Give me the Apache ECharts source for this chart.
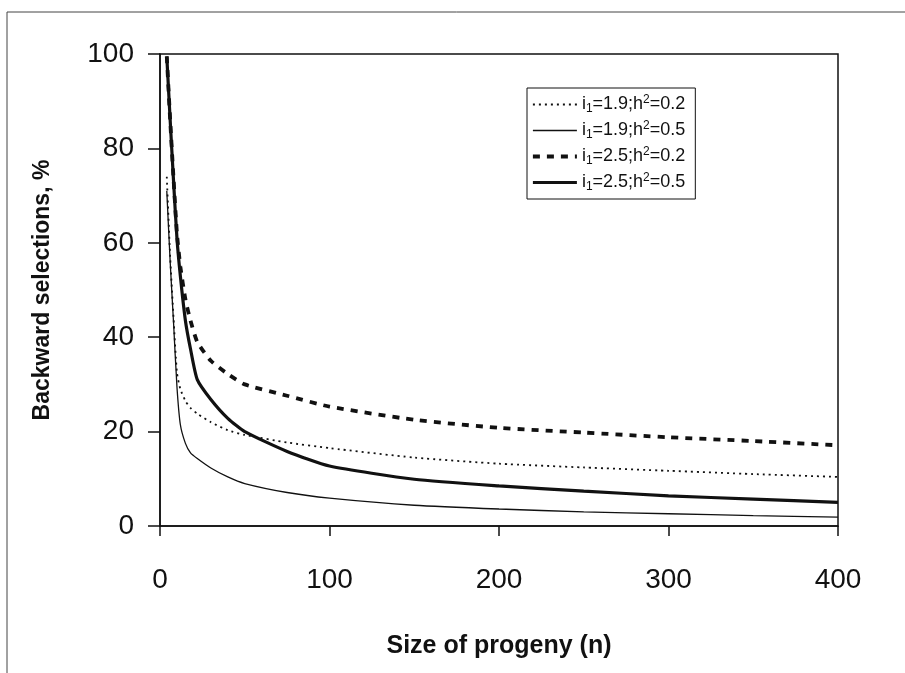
<!DOCTYPE html>
<html>
<head>
<meta charset="utf-8">
<script src="https://cdn.jsdelivr.net/npm/echarts@6/dist/echarts.min.js"></script>
<style>
html,body{margin:0;padding:0;background:#fff;}
#main{width:905px;height:673px;}
</style>
</head>
<body>
<div id="main"></div>
<script>
// progeny size (n)
var sizes = [4, 6, 8, 10, 12, 15, 18, 22, 30, 40, 50, 75, 100, 150, 200, 250, 300, 350, 400];
// backward selections, %
var i19h02 = [74, 57, 44, 32.5, 29, 26.5, 25, 23.8, 22, 20.3, 19.3, 17.7, 16.5, 14.5, 13.2, 12.4, 11.7, 11, 10.4];
var i19h05 = [71, 56, 43, 29.5, 21.5, 17.5, 15.5, 14.3, 12.3, 10.4, 9, 7.1, 5.9, 4.4, 3.6, 3.0, 2.6, 2.2, 1.9];
var i25h02 = [99.5, 86, 73.5, 62, 55, 48, 43.5, 39, 35, 32.2, 30, 27.6, 25.3, 22.5, 20.8, 19.8, 18.8, 18, 17.1];
var i25h05 = [99.5, 86, 73, 61, 53, 43.5, 37.5, 31, 26.8, 22.8, 20, 15.8, 12.7, 9.9, 8.5, 7.4, 6.4, 5.7, 5.0];
var names = ['i{sub|1}=1.9;h{sup|2}=0.2', 'i{sub|1}=1.9;h{sup|2}=0.5', 'i{sub|1}=2.5;h{sup|2}=0.2', 'i{sub|1}=2.5;h{sup|2}=0.5'];
var xTicks = [0, 100, 200, 300, 400];
var yTicks = [0, 20, 40, 60, 80, 100];

function pairs(ys){
  var out=[];
  for(var i=0;i<sizes.length;i++){ out.push([sizes[i], ys[i]]); }
  return out;
}

var font = '"Liberation Sans", Arial, sans-serif';
var styles = [
  {color:'#111', width:1.8, type:[2,4]},
  {color:'#111', width:1.3, type:'solid'},
  {color:'#111', width:3.8, type:[7,7]},
  {color:'#111', width:3.2, type:'solid'}
];
var myChart = echarts.init(document.getElementById('main'));
var option = {
  animation:false,
  backgroundColor:'#fff',
  graphic:[{
    type:'rect', silent:true,
    shape:{x:7, y:12, width:960, height:720},
    style:{fill:'none', stroke:'#444', lineWidth:1}
  }],
  grid:{left:160, right:67, top:54, bottom:147, show:true, borderColor:'#111', borderWidth:1.5},
  legend:{
    left:527, top:88, orient:'vertical',
    itemWidth:44, itemHeight:10, itemGap:5,
    borderColor:'#111', borderWidth:1, padding:[6,10,6,4],
    itemStyle:{opacity:0},
    data:names.map(function(n,i){ return {name:n, lineStyle:styles[i]}; }),
    textStyle:{
      fontFamily:font, fontSize:18, color:'#111',
      rich:{
        sub:{fontFamily:font, fontSize:12, color:'#111', padding:[9,0,0,0]},
        sup:{fontFamily:font, fontSize:12, color:'#111', padding:[0,0,9,0]}
      }
    }
  },
  xAxis:{
    type:'value', min:0, max:400, interval:100,
    name:'Size of progeny (n)', nameLocation:'middle', nameGap:108,
    nameTextStyle:{fontFamily:font, fontSize:25, fontWeight:'bold', color:'#111'},
    axisLine:{lineStyle:{color:'#111', width:1.5}},
    axisTick:{length:10, lineStyle:{color:'#111', width:1.5}},
    axisLabel:{fontFamily:font, fontSize:28, color:'#111', margin:40,
      formatter:function(v){ return xTicks.indexOf(v)>=0 ? String(v) : ''; }},
    splitLine:{show:false}
  },
  yAxis:{
    type:'value', min:0, max:100, interval:20,
    name:'Backward selections, %', nameLocation:'middle', nameGap:106,
    nameTextStyle:{fontFamily:font, fontSize:23, fontWeight:'bold', color:'#111'},
    axisLine:{lineStyle:{color:'#111', width:1.5}},
    axisTick:{length:12, lineStyle:{color:'#111', width:1.5}},
    axisLabel:{fontFamily:font, fontSize:28, color:'#111', margin:26,
      formatter:function(v){ return yTicks.indexOf(v)>=0 ? String(v) : ''; }},
    splitLine:{show:false}
  },
  series:[
    {name:names[0], type:'line', data:pairs(i19h02), symbol:'none', smooth:0.2, lineStyle:styles[0], itemStyle:{color:'#111'}},
    {name:names[1], type:'line', data:pairs(i19h05), symbol:'none', smooth:0.2, lineStyle:styles[1], itemStyle:{color:'#111'}},
    {name:names[2], type:'line', data:pairs(i25h02), symbol:'none', smooth:0.2, lineStyle:styles[2], itemStyle:{color:'#111'}},
    {name:names[3], type:'line', data:pairs(i25h05), symbol:'none', smooth:0.2, lineStyle:styles[3], itemStyle:{color:'#111'}}
  ]
};
myChart.setOption(option);
</script>
</body>
</html>
